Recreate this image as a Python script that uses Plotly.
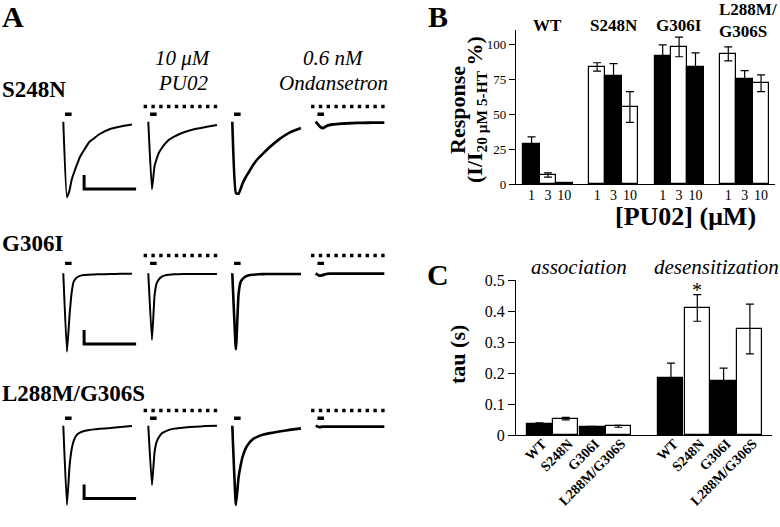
import plotly.graph_objects as go

W, H = 780, 527
SERIF = "Liberation Serif, Times New Roman, serif"

# ---------------- Panel A data (currents in µA, time in s) ----------------
T_GRID = [0, 0.35, 0.6, 0.8, 1.0, 1.3, 1.6, 2.0, 2.5, 3.0, 3.5, 4.5, 5.5, 6.6]
ROW_NAMES = ["S248N", "G306I", "L288M/G306S"]
COND_TOP = ["10 μM", "0.6 nM"]
COND_BOTTOM = ["PU02", "Ondansetron"]

S248N_CTRL = [0, -5.4, -4.9, -4.16, -3.7, -3.09, -2.52, -2.02, -1.45, -1.16, -0.88, -0.52, -0.34, -0.2]
S248N_PU02 = [0, -4.83, -3.16, -2.66, -2.24, -1.88, -1.59, -1.28, -1.06, -0.88, -0.74, -0.52, -0.38, -0.24]
S248N_WASH = [0, -5.1, -5.15, -4.8, -4.4, -3.95, -3.59, -3.09, -2.61, -2.24, -1.88, -1.26, -0.78, -0.45]
S248N_OND = [0, -0.3, -0.45, -0.42, -0.32, -0.24, -0.2, -0.17, -0.14, -0.12, -0.1, -0.08, -0.07, -0.07]

G306I_CTRL = [0, -5.6, -3.0, -1.4, -0.6, -0.3, -0.18, -0.12, -0.1, -0.08, -0.07, -0.05, -0.04, -0.03]
G306I_PU02 = [0, -4.76, -1.6, -0.72, -0.45, -0.24, -0.15, -0.1, -0.07, -0.06, -0.05, -0.05, -0.05, -0.05]
G306I_WASH = [0, -5.43, -1.5, -0.62, -0.4, -0.22, -0.14, -0.1, -0.07, -0.06, -0.05, -0.05, -0.05, -0.05]
G306I_OND = [0, -0.17, -0.15, -0.1, -0.05, -0.02, -0.02, -0.02, -0.02, -0.02, -0.02, -0.02, -0.02, -0.02]

L288M_CTRL = [0, -5.66, -2.9, -1.7, -1.08, -0.66, -0.5, -0.38, -0.3, -0.26, -0.22, -0.17, -0.1, -0.02]
L288M_PU02 = [0, -4.24, -1.9, -1.16, -0.85, -0.54, -0.42, -0.3, -0.21, -0.16, -0.12, -0.07, -0.03, 0]
L288M_WASH = [0, -5.66, -3.7, -2.85, -2.2, -1.6, -1.25, -0.95, -0.76, -0.63, -0.55, -0.42, -0.3, -0.19]
L288M_OND = [0, -0.1, -0.07, -0.07, -0.07, -0.07, -0.07, -0.07, -0.07, -0.07, -0.07, -0.07, -0.07, -0.07]

ROW_TRACES = [
    [S248N_CTRL, S248N_PU02, S248N_WASH, S248N_OND],
    [G306I_CTRL, G306I_PU02, G306I_WASH, G306I_OND],
    [L288M_CTRL, L288M_PU02, L288M_WASH, L288M_OND],
]
APPLY_T = [0.17, 0.8]          # 5-HT application bar
PRE_T = [-0.45, 6.65]          # pre-application of drug (dotted)
SCALE_BAR_S = 5
SCALE_BAR_UA = 1

# ---------------- Panel B data ----------------
B_GROUP_LINES = [["WT"], ["S248N"], ["G306I"], ["L288M/", "G306S"]]
B_DOSES = ["1", "3", "10"]
B_MEAN = [28.6, 6.4, 0.7, 83.6, 77, 55, 91.4, 97.9, 83.6, 92.9, 75, 72]
B_ERR = [5, 1.5, 0, 3, 9, 11, 8, 7, 10, 5, 6, 6]
B_YTICKS = [0, 25, 50, 75, 100]

# ---------------- Panel C data ----------------
C_CONSTRUCTS = ["WT", "S248N", "G306I", "L288M/G306S"]
C_PHASES = ["association", "desensitization"]
C_ASSOC = [0.035, 0.053, 0.025, 0.028]
C_ASSOC_ERR = [0.004, 0.004, 0.003, 0.003]
C_DESENS = [0.184, 0.41, 0.174, 0.342]
C_DESENS_ERR = [0.048, 0.043, 0.042, 0.08]
C_YTICKS = [0, 0.1, 0.2, 0.3, 0.4, 0.5]

# ---------------- layout constants (pixels) ----------------
COL_START_PX = [63.3, 148.3, 232.3, 315.7]
ROW_BASE_PX = [121.7, 273.3, 425.7]
PX_PER_S = 10.4
PX_PER_UA = 14.0
A_XR = [-0.8, 7.2]
A_YR = [-6.2, 1.6]
MARK_Y = [0.53, 0.71, 0.53]
DOT_Y = [1.09, 1.27, 1.09]
SB_Y = [-4.8, -5.05, -5.2]
TRACE_W = [2.0, 2.0, 2.6, 2.8]


def px_x(p):
    return p / W


def px_y(p):
    return 1 - p / H


fig = go.Figure()
layout_axes = {}

for r in range(3):
    base = ROW_BASE_PX[r]
    y_top = base - A_YR[1] * PX_PER_UA
    y_bot = base - A_YR[0] * PX_PER_UA
    for c in range(4):
        k = 3 + r * 4 + c
        left = COL_START_PX[c] + A_XR[0] * PX_PER_S
        right = left + (A_XR[1] - A_XR[0]) * PX_PER_S
        layout_axes[f"xaxis{k}"] = dict(domain=[px_x(left), px_x(right)], range=A_XR,
                                        visible=False, anchor=f"y{k}", fixedrange=True,
                                        automargin=False)
        layout_axes[f"yaxis{k}"] = dict(domain=[px_y(y_bot), px_y(y_top)], range=A_YR,
                                        visible=False, anchor=f"x{k}", fixedrange=True,
                                        automargin=False)
        xa, ya = f"x{k}", f"y{k}"
        fig.add_trace(go.Scatter(x=T_GRID, y=ROW_TRACES[r][c], mode="lines", xaxis=xa, yaxis=ya,
                                 line=dict(color="black", width=TRACE_W[c], shape="spline",
                                           smoothing=0.4),
                                 showlegend=False, hoverinfo="skip"))
        fig.add_trace(go.Scatter(x=APPLY_T, y=[MARK_Y[r]] * 2, mode="lines", xaxis=xa, yaxis=ya,
                                 line=dict(color="black", width=3.4), showlegend=False,
                                 hoverinfo="skip"))
        if c in (1, 3):
            fig.add_trace(go.Scatter(x=PRE_T, y=[DOT_Y[r]] * 2, mode="lines", xaxis=xa, yaxis=ya,
                                     line=dict(color="black", width=3.4, dash="3.4px,4.4px"),
                                     showlegend=False, hoverinfo="skip"))
        if c == 0:
            sb = SB_Y[r]
            fig.add_trace(go.Scatter(x=[2, 2, 2 + SCALE_BAR_S], y=[sb + SCALE_BAR_UA, sb, sb],
                                     mode="lines", xaxis=xa, yaxis=ya,
                                     line=dict(color="black", width=3), showlegend=False,
                                     hoverinfo="skip"))

# ---------------- Panel B ----------------
b_x = [g * 4 + j for g in range(4) for j in range(3)]
b_colors = ["black" if i % 2 == 0 else "white" for i in range(len(B_MEAN))]
fig.add_trace(go.Bar(x=b_x, y=B_MEAN, width=1.0, xaxis="x", yaxis="y",
                     marker=dict(color=b_colors, line=dict(color="black", width=1.2)),
                     error_y=dict(type="data", array=B_ERR, color="black", thickness=1.2, width=4),
                     showlegend=False))

# ---------------- Panel C ----------------
c_x = [0, 1, 2, 3, 5, 6, 7, 8]
c_vals = C_ASSOC + C_DESENS
c_errs = C_ASSOC_ERR + C_DESENS_ERR
c_colors = ["black", "white", "black", "white"] * 2
fig.add_trace(go.Bar(x=c_x, y=c_vals, width=0.95, xaxis="x2", yaxis="y2",
                     marker=dict(color=c_colors, line=dict(color="black", width=1.2)),
                     error_y=dict(type="data", array=c_errs, color="black", thickness=1.2, width=4),
                     showlegend=False))

axis_common = dict(showline=True, linecolor="black", linewidth=1.2, showgrid=False,
                   zeroline=False, fixedrange=True, automargin=False)

layout_axes["xaxis"] = dict(domain=[px_x(516), px_x(775)], range=[-0.95, 14.85], anchor="y",
                            tickvals=b_x, ticktext=B_DOSES * 4, ticks="", ticklabelstandoff=-2,
                            tickfont=dict(family=SERIF, size=14, color="black"), **axis_common)
layout_axes["yaxis"] = dict(domain=[px_y(184), px_y(30)], range=[0, 110], anchor="x",
                            tickvals=B_YTICKS, ticks="outside", ticklen=6, tickcolor="black",
                            tickfont=dict(family=SERIF, size=13, color="black"), **axis_common)
layout_axes["xaxis2"] = dict(domain=[px_x(516), px_x(772)], range=[-0.89, 8.84], anchor="y2",
                             tickvals=c_x, ticktext=C_CONSTRUCTS * 2, ticks="", tickangle=-45,
                             ticklabelstandoff=-6, ticklabelshift=3,
                             tickfont=dict(family=SERIF, size=14, color="black", weight="bold"),
                             **axis_common)
layout_axes["yaxis2"] = dict(domain=[px_y(435), px_y(280)], range=[0, 0.5], anchor="x2",
                             tickvals=C_YTICKS, ticktext=["0", "0.1", "0.2", "0.3", "0.4", "0.5"],
                             ticks="outside", ticklen=7, tickcolor="black",
                             tickfont=dict(family=SERIF, size=16, color="black"), **axis_common)

ann = []


def add_text(text, x, y, size, bold=False, italic=False, xanchor="center", yanchor="middle",
             angle=0, xref="paper", yref="paper"):
    ann.append(dict(text=text, x=x, y=y, xref=xref, yref=yref, showarrow=False,
                    xanchor=xanchor, yanchor=yanchor, textangle=angle,
                    font=dict(family=SERIF, size=size, color="black",
                              weight="bold" if bold else "normal",
                              style="italic" if italic else "normal")))


# panel letters
add_text("A", px_x(13), px_y(17), 30, bold=True)
add_text("B", px_x(438), px_y(16), 30, bold=True)
add_text("C", px_x(438), px_y(274), 30, bold=True)

# panel A labels
ROW_LABEL_Y = [89, 243, 393]
for r, name in enumerate(ROW_NAMES):
    add_text(name, 0, px_y(ROW_LABEL_Y[r]), 23, bold=True, xanchor="left")
COND_X = [183, 333]
for i in range(2):
    add_text(COND_TOP[i], px_x(COND_X[i]), px_y(58), 21, italic=True)
    add_text(COND_BOTTOM[i], px_x(COND_X[i]), px_y(83), 21, italic=True)

# panel B labels
for g, lines in enumerate(B_GROUP_LINES):
    if len(lines) == 1:
        add_text(lines[0], g * 4 + 1, px_y(25), 17, bold=True, xref="x")
    else:
        add_text(lines[0], px_x(717), px_y(10), 17, bold=True, xanchor="left")
        add_text(lines[1], px_x(717), px_y(32), 17, bold=True, xanchor="left")
add_text("[PU02] (μM)", px_x(685), px_y(216), 26, bold=True)
add_text("Response", px_x(457), px_y(110), 22, bold=True, angle=-90)
add_text("(I/I<sub>20 μM 5-HT</sub> %)", px_x(476), px_y(110), 22, bold=True, angle=-90)

# panel C labels
add_text("tau (s)", px_x(457), px_y(355), 22, bold=True, angle=-90)
add_text(C_PHASES[0], px_x(579), px_y(267), 21, italic=True)
add_text(C_PHASES[1], px_x(716), px_y(267), 21, italic=True)
add_text("*", 6, px_y(277), 20, xref="x2", yanchor="top")

fig.update_layout(template="none", width=W, height=H, margin=dict(l=0, r=0, t=0, b=0, pad=0),
                  autosize=False, font=dict(family=SERIF, color="black"),
                  paper_bgcolor="white", plot_bgcolor="white", annotations=ann,
                  showlegend=False, bargap=0, **layout_axes)

fig.write_html("out.html", config={"displayModeBar": False, "responsive": False},
               post_script="document.body.style.margin='0';document.body.style.padding='0';"
                           "document.body.style.overflow='hidden';")
